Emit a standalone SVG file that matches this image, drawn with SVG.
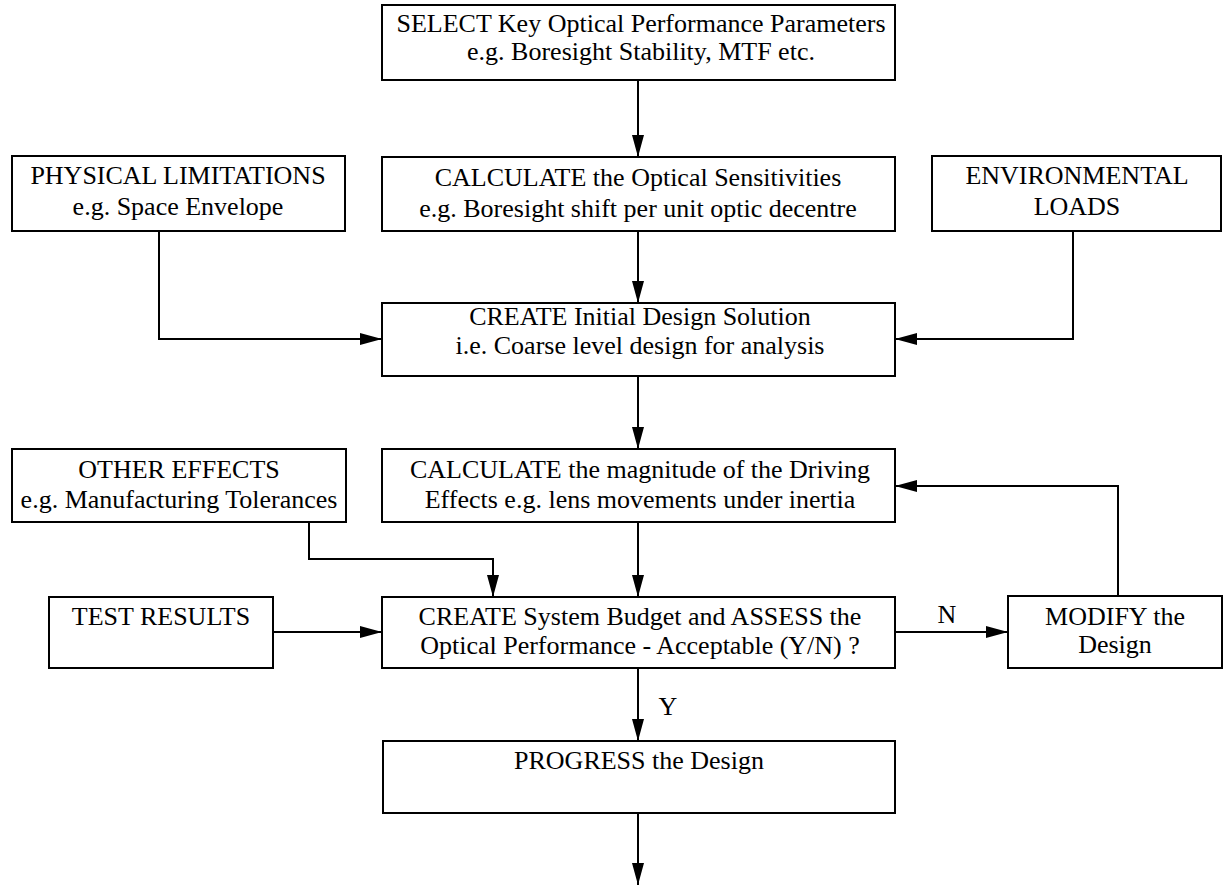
<svg xmlns="http://www.w3.org/2000/svg" width="1227" height="887" viewBox="0 0 1227 887">
  <style>
    .box { fill: #ffffff; stroke: #000000; stroke-width: 2; }
    .lbl { font-family: "Liberation Serif", "Times New Roman", serif; font-size: 26px; fill: #000000; text-anchor: middle; }
    .wire { fill: none; stroke: #000000; stroke-width: 2; }
  </style>
  <defs>
    <marker id="arrow" viewBox="0 0 22 12" refX="22" refY="6" markerWidth="22" markerHeight="12" markerUnits="userSpaceOnUse" orient="auto">
      <path d="M0,0 L22,6 L0,12 Z" fill="#000000"/>
    </marker>
  </defs>
  <rect width="1227" height="887" fill="#ffffff"/>

  <!-- connectors -->
  <g id="connectors">
    <path class="wire" d="M638,80 V157" marker-end="url(#arrow)"/>
    <path class="wire" d="M638,231 V303" marker-end="url(#arrow)"/>
    <path class="wire" d="M159,231 V339 H382" marker-end="url(#arrow)"/>
    <path class="wire" d="M1073,231 V339 H895" marker-end="url(#arrow)"/>
    <path class="wire" d="M638,376 V449" marker-end="url(#arrow)"/>
    <path class="wire" d="M309,522 V559 H493 V597" marker-end="url(#arrow)"/>
    <path class="wire" d="M638,522 V597" marker-end="url(#arrow)"/>
    <path class="wire" d="M273,632 H382" marker-end="url(#arrow)"/>
    <path class="wire" d="M895,632 H1008" marker-end="url(#arrow)"/>
    <path class="wire" d="M1118,596 V486 H895" marker-end="url(#arrow)"/>
    <path class="wire" d="M638,668 V741" marker-end="url(#arrow)"/>
    <path class="wire" d="M638,813 V885" marker-end="url(#arrow)"/>
    <text class="lbl" x="947" y="623">N</text>
    <text class="lbl" x="668" y="715">Y</text>
  </g>

  <g id="select">
    <rect class="box" x="382" y="5" width="513" height="75"/>
    <text class="lbl" x="641" y="32">SELECT Key Optical Performance Parameters</text>
    <text class="lbl" x="641" y="60">e.g. Boresight Stability, MTF etc.</text>
  </g>

  <g id="physical">
    <rect class="box" x="12" y="156" width="333" height="75"/>
    <text class="lbl" x="178" y="184">PHYSICAL LIMITATIONS</text>
    <text class="lbl" x="178" y="215">e.g. Space Envelope</text>
  </g>

  <g id="sensitivities">
    <rect class="box" x="382" y="157" width="513" height="74"/>
    <text class="lbl" x="638" y="186">CALCULATE the Optical Sensitivities</text>
    <text class="lbl" x="638" y="217">e.g. Boresight shift per unit optic decentre</text>
  </g>

  <g id="environmental">
    <rect class="box" x="932" y="156" width="289" height="75"/>
    <text class="lbl" x="1077" y="184">ENVIRONMENTAL</text>
    <text class="lbl" x="1077" y="215">LOADS</text>
  </g>

  <g id="initial-design">
    <rect class="box" x="382" y="303" width="513" height="73"/>
    <text class="lbl" x="640" y="325">CREATE Initial Design Solution</text>
    <text class="lbl" x="640" y="354">i.e. Coarse level design for analysis</text>
  </g>

  <g id="other-effects">
    <rect class="box" x="12" y="449" width="334" height="73"/>
    <text class="lbl" x="179" y="478">OTHER EFFECTS</text>
    <text class="lbl" x="179" y="508">e.g. Manufacturing Tolerances</text>
  </g>

  <g id="driving-effects">
    <rect class="box" x="382" y="449" width="513" height="73"/>
    <text class="lbl" x="640" y="478">CALCULATE the magnitude of the Driving</text>
    <text class="lbl" x="640" y="508">Effects e.g. lens movements under inertia</text>
  </g>

  <g id="test-results">
    <rect class="box" x="49" y="597" width="224" height="71"/>
    <text class="lbl" x="161" y="625">TEST RESULTS</text>
  </g>

  <g id="system-budget">
    <rect class="box" x="382" y="597" width="513" height="71"/>
    <text class="lbl" x="640" y="625">CREATE System Budget and ASSESS the</text>
    <text class="lbl" x="640" y="654">Optical Performance - Acceptable (Y/N) ?</text>
  </g>

  <g id="modify">
    <rect class="box" x="1008" y="596" width="214" height="72"/>
    <text class="lbl" x="1115" y="625">MODIFY the</text>
    <text class="lbl" x="1115" y="653">Design</text>
  </g>

  <g id="progress">
    <rect class="box" x="383" y="741" width="512" height="72"/>
    <text class="lbl" x="639" y="769">PROGRESS the Design</text>
  </g>
</svg>
